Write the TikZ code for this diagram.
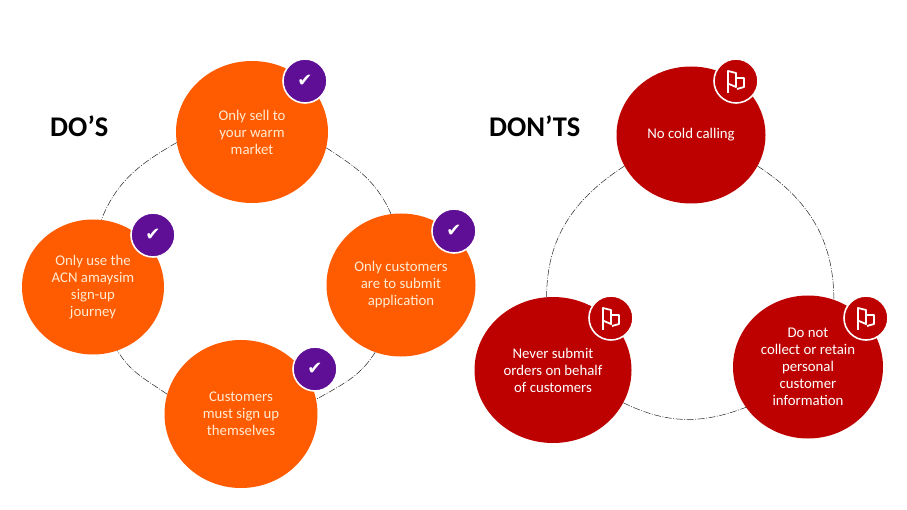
\documentclass[tikz,border=0pt]{standalone}
\usepackage{fontspec}
\usepackage{xcolor}
\setmainfont{Carlito}
\newfontfamily\symbolfont{DejaVu Sans}
\usetikzlibrary{shapes.geometric}
\definecolor{doorange}{HTML}{FF5B00}
\definecolor{dontred}{HTML}{BD0000}
\definecolor{badgepurple}{HTML}{5F0F96}
\definecolor{creamtext}{HTML}{FFEBD2}
\tikzset{
    bubble/.style={ellipse, inner sep=0pt, align=center, font=\fontsize{14.8}{17}\selectfont},
    dobubble/.style={bubble, fill=doorange, text=creamtext},
    dontbubble/.style={bubble, fill=dontred, text=white},
    heading/.style={inner sep=0pt, anchor=west, font=\fontsize{28.5}{30}\selectfont\bfseries},
    badge/.style={circle, inner sep=0pt, minimum size=44pt, draw=white, line width=1.6pt},
    checkbadge/.style={badge, fill=badgepurple, text=white, font=\fontsize{18}{18}\symbolfont},
    flagbadge/.style={badge, fill=dontred},
    ringline/.style={black!85, line width=0.5pt, dash pattern=on 7pt off 1.5pt on 1pt off 1.5pt},
    flagmark/.pic={
        \draw[white, line width=1.8pt, line join=round] (-8,12) -- (-8,-10) -- (0,-8) -- (0,6) -- (-7,3);
        \draw[white, line width=1.8pt, line join=round] (1,-3) -- (8,-3) -- (8,6) -- (1,8);
    }
}
\begin{document}
\begin{tikzpicture}[x=1pt, y=-1pt]
    \useasboundingbox[fill=white] (0,0) rectangle (907,510);

    \node[heading] (dos) at (50,126) {DO’S};
    \node[heading] (donts) at (489,126) {DON’TS};

    \node[dobubble, minimum width=152pt, minimum height=142pt] (sell) at (252,132) {Only sell to\\your warm\\market};
    \node[dobubble, minimum width=142pt, minimum height=135pt] (journey) at (93,287) {Only use the\\ACN amaysim\\sign-up\\journey};
    \node[dobubble, minimum width=149pt, minimum height=143pt] (apply) at (401,285) {Only customers\\are to submit\\application};
    \node[dobubble, minimum width=153pt, minimum height=148pt] (signup) at (241,414) {Customers\\must sign up\\themselves};

    \node[dontbubble, minimum width=149pt, minimum height=137pt] (cold) at (691,135) {No cold calling};
    \node[dontbubble, minimum width=157pt, minimum height=146pt] (orders) at (553,370) {Never submit\\orders on behalf\\of customers};
    \node[dontbubble, minimum width=150pt, minimum height=143pt] (retain) at (808,367) {Do not\\collect or retain\\personal\\customer\\information};

    \node[checkbadge] (sellcheck) at (305,81) {✔};
    \node[checkbadge] (journeycheck) at (153,235) {✔};
    \node[checkbadge] (applycheck) at (454,231) {✔};
    \node[checkbadge] (signupcheck) at (315,369) {✔};

    \node[flagbadge] (coldflag) at (736,81) {};
    \node[flagbadge] (ordersflag) at (611,318) {};
    \node[flagbadge] (retainflag) at (866,318) {};
    \pic at (coldflag) {flagmark};
    \pic at (ordersflag) {flagmark};
    \pic at (retainflag) {flagmark};

    \draw[ringline] (sell.188) to[out=210, in=68] (journey.83);
    \draw[ringline] (sell.-12) to[out=-33, in=114] (apply.98);
    \draw[ringline] (apply.249) to[out=238, in=30] (signup.11);
    \draw[ringline] (signup.165) to[out=145, in=-59] (journey.-69);

    \draw[ringline] (cold.205) to[out=213, in=90] (orders.95);
    \draw[ringline] (cold.-25) to[out=-33, in=90] (retain.69);
    \draw[ringline] (orders.-25) to[out=-26, in=201] (retain.213);
\end{tikzpicture}
\end{document}
